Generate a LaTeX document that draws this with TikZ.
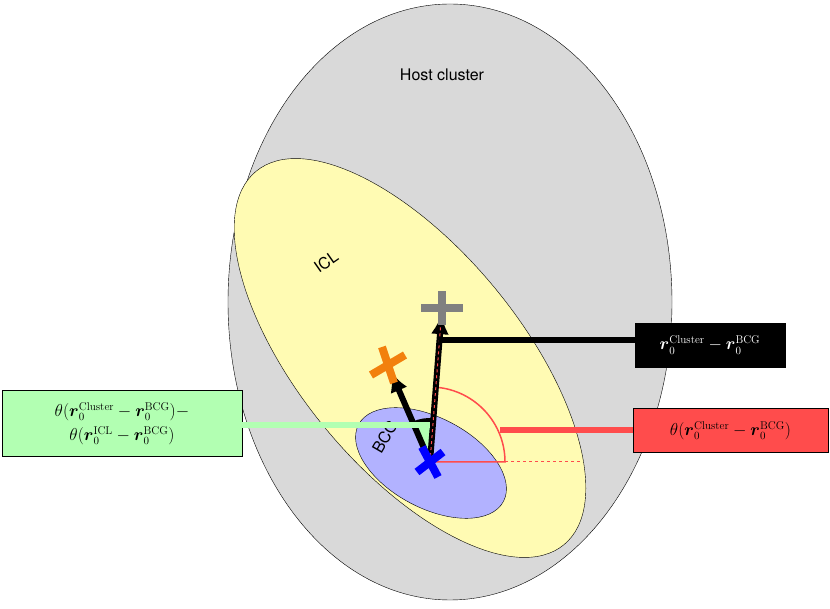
\documentclass[tikz,border=0pt]{standalone}
\usepackage{amsmath,amssymb}
\usepackage{fontspec}
\newfontfamily\hv{TeX Gyre Heros}
\usetikzlibrary{arrows.meta,calc}
\begin{document}
\begin{tikzpicture}[x=1pt,y=1pt,
  lbl/.style={font=\hv\fontsize{16}{19}\selectfont},
  vec/.style={line width=6pt,-{Latex[length=20pt,width=18pt]}},
  boxstyle/.style={draw=black,minimum height=44pt,align=center,font=\fontsize{16}{20}\selectfont}]
\useasboundingbox (0,0) rectangle (830,608);
\draw[fill=gray!30] (450,306) ellipse [x radius=222, y radius=298];
\draw[fill=yellow!30] (410,250) ellipse [x radius=242, y radius=110, rotate=-50.5];
\draw[fill=blue!30] (431,145) ellipse [x radius=82, y radius=45, rotate=-28];
\coordinate (C) at (430,146);
\coordinate (G) at (442,300);
\coordinate (O) at (388,243);
\node[lbl] (host) at (442,533) {Host cluster};
\node[lbl,rotate=35] (icl) at (326,346) {ICL};
\node[lbl,rotate=60] (bcg) at (385,171) {BCG};
% green wedge
\fill[green!30] (C) -- ++(85.5:40) arc[start angle=85.5,end angle=113.4,radius=40] -- cycle;
\draw[line width=4pt] ($(C)+(85.5:42)$) arc[start angle=85.5,end angle=113.4,radius=42];
% red sector
\draw[red!70,line width=1.5pt] (C) -- ++(0:75) arc[start angle=0,end angle=85.5,radius=75] -- cycle;
\draw[red!70,dashed,line width=1pt] ($(C)+(75,0)$) -- ++(75,0);
% vectors
\draw[vec] (C) -- ($(C)!0.93!(O)$);
\draw[vec] (C) -- ($(C)!0.96!(G)$);
\draw[red!70,dashed,line width=1pt] (C) -- (G);
% markers
\draw[blue,line width=8pt] ($(C)+(-13,-10)$) -- ($(C)+(13,10)$) ($(C)+(-8,15)$) -- ($(C)+(8,-15)$);
\draw[gray,line width=8pt] ($(G)+(-21,0)$) -- ($(G)+(21,0)$) ($(G)+(0,-17)$) -- ($(G)+(0,17)$);
\draw[orange!80!brown,line width=8pt] ($(O)+(-17,-10)$) -- ($(O)+(17,10)$) ($(O)+(-6,18)$) -- ($(O)+(6,-18)$);
% boxes
\node[boxstyle,fill=black,text=white,minimum width=150pt] (bk) at (710,263) {$\boldsymbol{r}_0^{\mathrm{Cluster}}-\boldsymbol{r}_0^{\mathrm{BCG}}$};
\node[boxstyle,fill=red!70,minimum width=195pt] (rd) at (730.5,177.5) {$\theta(\boldsymbol{r}_0^{\mathrm{Cluster}}-\boldsymbol{r}_0^{\mathrm{BCG}})$};
\node[boxstyle,fill=green!30,minimum width=240pt,minimum height=66pt] (gr) at (122,184.5) {$\theta(\boldsymbol{r}_0^{\mathrm{Cluster}}-\boldsymbol{r}_0^{\mathrm{BCG}})-$\\[4pt]$\theta(\boldsymbol{r}_0^{\mathrm{ICL}}-\boldsymbol{r}_0^{\mathrm{BCG}})$};
% connectors
\coordinate (gk) at ($(C)!0.79!(G)$);
\draw[line width=6pt] (gk) -- (gk -| bk.west);
\draw[red!70,line width=6pt] ($(C)+(70,32)$) coordinate (rk) -- (rk -| rd.west);
\draw[green!30,line width=6pt] (gr.east |- 0,183) coordinate (gc) -- (gc -| C);
\end{tikzpicture}
\end{document}
